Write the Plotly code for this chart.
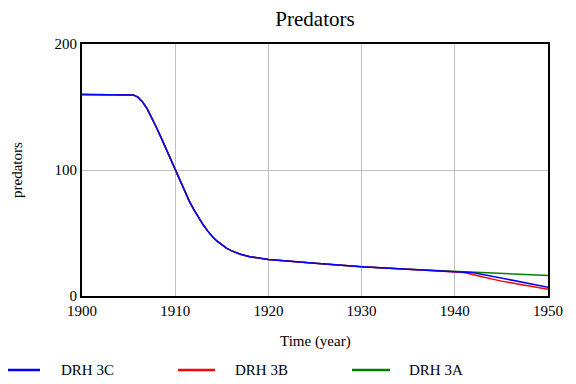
import plotly.graph_objects as go

years = [1900, 1905, 1905.5, 1906, 1906.5, 1907, 1907.5, 1908, 1908.5, 1909,
         1909.5, 1910, 1910.5, 1911, 1911.5, 1912, 1912.5, 1913, 1913.5, 1914,
         1914.5, 1915, 1915.5, 1916, 1916.5, 1917, 1918, 1919, 1920, 1925,
         1930, 1935, 1940, 1941, 1942, 1943, 1944, 1945, 1946, 1947, 1948,
         1949, 1950]
common = [160, 160, 159.6, 157.8, 154, 148.5, 141.5, 133.5, 125.5, 117,
          108.5, 100, 91.5, 83, 75.5, 68.5, 62, 56.5, 51.5, 47,
          43.5, 40.5, 38, 36, 34.5, 33.2, 31.2, 29.9, 29, 26,
          23.3, 21.3, 19.5]
tail_3c = [19.2, 18.4, 17.1, 15.7, 14.3, 12.8, 11.4, 10, 8.5, 7]
tail_3b = [18.6, 16.9, 15, 13.3, 11.8, 10.6, 9.4, 8.1, 6.8, 5.3]
tail_3a = [19.2, 18.9, 18.6, 18.2, 17.9, 17.6, 17.2, 16.9, 16.5, 16.2]

series = [
    ("DRH 3C", common + tail_3c, "#0000ff"),
    ("DRH 3B", common + tail_3b, "#ff0000"),
    ("DRH 3A", common + tail_3a, "#008000"),
]

x_ticks = [1900, 1910, 1920, 1930, 1940, 1950]
y_ticks = [0, 100, 200]

font = "Liberation Serif, Times New Roman, serif"

# plot area in screen pixels; the page body adds an 8px offset
OFF = 8
L, R, T, B = 82, 548, 44, 296
W, H = R - L, B - T


def px(x):
    return (x - L) / W


def py(y):
    return (B - y) / H


fig = go.Figure()
# draw in reverse so blue is on top
for name, vals, color in reversed(series):
    fig.add_trace(go.Scatter(x=years, y=vals, mode="lines", name=name,
                             showlegend=False,
                             line=dict(color=color, width=1.5, shape="linear")))

# manual legend
legend_pos = [(5, 40, 59), (178, 215, 233), (352, 390, 407)]
for (name, _, color), (x0, x1, xt) in zip(series, legend_pos):
    fig.add_shape(type="line", xref="paper", yref="paper",
                  x0=px(x0), x1=px(x1), y0=py(370), y1=py(370),
                  line=dict(color=color, width=2.5))
    fig.add_annotation(text=name, xref="paper", yref="paper",
                       x=px(xt), y=py(370), xanchor="left", yanchor="middle",
                       showarrow=False, font=dict(family=font, size=15, color="black"))

fig.add_annotation(text="Time (year)", xref="paper", yref="paper",
                   x=px(315), y=py(341), xanchor="center", yanchor="middle",
                   showarrow=False, font=dict(family=font, size=15, color="black"))
fig.add_annotation(text="predators", xref="paper", yref="paper", textangle=-90,
                   x=px(17), y=py(170), xanchor="center", yanchor="middle",
                   showarrow=False, font=dict(family=font, size=15, color="black"))

fig.update_layout(
    width=576, height=384,
    margin=dict(l=L - OFF, r=576 - R + OFF, t=T - OFF, b=384 - B + OFF,
                autoexpand=False),
    paper_bgcolor="white", plot_bgcolor="white",
    font=dict(family=font, size=15, color="black"),
    title=dict(text="Predators", xref="paper", x=0.5, xanchor="center",
               yref="container", y=1 - (19 - OFF) / 384, yanchor="middle",
               font=dict(family=font, size=21, color="black")),
    showlegend=False,
    xaxis=dict(range=[1900, 1950], tickvals=x_ticks, showgrid=True,
               gridcolor="#c0c0c0", gridwidth=1, zeroline=False,
               showline=True, linecolor="black", linewidth=2, mirror=True,
               ticks="", automargin=False,
               tickfont=dict(family=font, size=15, color="black")),
    yaxis=dict(range=[0, 200], tickvals=y_ticks, showgrid=True,
               gridcolor="#c0c0c0", gridwidth=1, zeroline=False,
               showline=True, linecolor="black", linewidth=2, mirror=True,
               ticks="", automargin=False,
               tickfont=dict(family=font, size=15, color="black")),
)

fig.write_html("out.html")
